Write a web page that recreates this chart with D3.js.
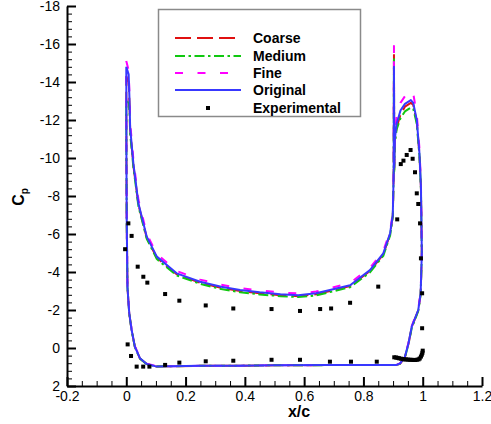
<!DOCTYPE html>
<html>
<head>
  <meta charset="utf-8">
  <script src="https://d3js.org/d3.v7.min.js"></script>
  <style>
    body { margin: 0; background: white; }
    svg { display: block; }
    text { font-family: "Liberation Sans", Arial, sans-serif; }
  </style>
</head>
<body>
  <svg id="chart"></svg>
  <script>
    // ---- data ----
    // path around the airfoil (upper surface LE -> flap -> lower surface -> LE)
    var pathX = [0.000, 0.008, 0.011, 0.013, 0.024, 0.041, 0.069, 0.103, 0.170, 0.249,
      0.320, 0.384, 0.450, 0.520, 0.580, 0.640, 0.687, 0.755, 0.822, 0.867,
      0.890, 0.899, 0.902, 0.903, 0.904, 0.906, 0.912, 0.925, 0.940, 0.960,
      0.968, 0.980, 0.989, 0.994, 0.997, 0.993, 0.985, 0.963, 0.952, 0.940,
      0.924, 0.910, 0.800, 0.687, 0.500, 0.384, 0.250, 0.150, 0.103, 0.069,
      0.046, 0.029, 0.018, 0.010, 0.004, 0.0015, 0.0005, 0.000];

    var cpOriginal = [-14.8, -14.4, -13.0, -11.6, -9.7, -7.6, -5.86, -4.81, -3.93, -3.49,
      -3.22, -3.05, -2.93, -2.83, -2.78, -2.88, -3.05, -3.3, -4.1, -4.98,
      -6.04, -7.0, -9.2, -14.8, -9.5, -11.0, -11.8, -12.5, -12.85, -13.05,
      -12.9, -12.0, -10.25, -8.5, -5.0, -2.88, -2.0, -1.12, -0.25, 0.46,
      0.81, 0.9, 0.9, 0.9, 0.91, 0.93, 0.94, 0.96, 0.98, 0.84,
      0.54, -0.07, -0.95, -1.83, -3.2, -6.7, -10.0, -14.8];

    var cpFine = [-15.1, -14.6, -13.3, -11.9, -9.9, -7.8, -6.0, -4.95, -4.05, -3.6,
      -3.33, -3.15, -3.03, -2.92, -2.87, -2.97, -3.15, -3.42, -4.22, -5.1,
      -6.15, -7.1, -9.4, -15.9, -9.7, -11.3, -12.2, -12.9, -13.25, -13.55,
      -13.4, -12.3, -10.5, -8.7, -5.1, -2.95, -2.05, -1.15, -0.28, 0.44,
      0.8, 0.9, 0.9, 0.9, 0.91, 0.93, 0.94, 0.96, 0.97, 0.82,
      0.52, -0.1, -0.98, -1.86, -3.25, -6.8, -10.2, -15.1];

    var cpMedium = [-13.0, -12.9, -12.4, -11.3, -9.5, -7.45, -5.75, -4.68, -3.82, -3.38,
      -3.1, -2.94, -2.82, -2.73, -2.68, -2.77, -2.94, -3.2, -3.98, -4.85,
      -5.92, -6.9, -9.0, -15.2, -9.3, -10.8, -11.5, -12.1, -12.45, -12.65,
      -12.6, -11.8, -10.1, -8.35, -4.9, -2.8, -1.95, -1.05, -0.2, 0.5,
      0.83, 0.9, 0.9, 0.9, 0.91, 0.93, 0.94, 0.96, 0.98, 0.85,
      0.56, -0.05, -0.92, -1.8, -3.15, -6.6, -9.8, -13.0];

    var cpCoarse = [-14.3, -14.0, -12.8, -11.5, -9.6, -7.55, -5.8, -4.75, -3.88, -3.44,
      -3.16, -3.0, -2.88, -2.78, -2.73, -2.83, -3.0, -3.26, -4.05, -4.92,
      -6.0, -6.95, -9.1, -15.5, -9.4, -10.9, -11.6, -12.3, -12.7, -12.9,
      -12.8, -11.9, -10.2, -8.45, -4.95, -2.85, -1.98, -1.1, -0.22, 0.48,
      0.82, 0.9, 0.9, 0.9, 0.91, 0.93, 0.94, 0.96, 0.98, 0.84,
      0.55, -0.06, -0.94, -1.82, -3.18, -6.65, -9.9, -14.3];

    // experimental points
    var expX = [-0.004, 0.007, 0.018, 0.0385, 0.0575, 0.071, 0.131, 0.179, 0.268, 0.361,
      0.49, 0.586, 0.654, 0.691, 0.755, 0.85,
      0.914, 0.926, 0.935, 0.946, 0.959, 0.966, 0.974, 0.98, 0.985, 0.991,
      0.994, 0.998, 0.998, 1.0,
      0.0046, 0.016, 0.035, 0.057, 0.078, 0.131, 0.179, 0.268, 0.361, 0.49,
      0.586, 0.687, 0.758, 0.845, 0.904,
      0.91, 0.915, 0.92, 0.926, 0.932, 0.938, 0.944, 0.95, 0.956, 0.962,
      0.968, 0.974, 0.98, 0.986, 0.99, 0.994, 0.997, 0.999];
    var expCp = [-5.2, -6.56, -5.9, -4.28, -3.75, -3.44, -2.84, -2.49, -2.24, -2.08,
      -2.05, -1.95, -2.05, -2.08, -2.38, -3.23,
      -6.77, -9.68, -9.86, -10.16, -10.42, -9.96, -9.25, -8.14, -7.58, -6.56,
      -4.72, -2.88, -1.04, 0.14,
      -0.19, 0.42, 0.98, 0.98, 0.98, 0.89, 0.77, 0.7, 0.67, 0.62,
      0.62, 0.72, 0.72, 0.72, 0.49,
      0.5, 0.52, 0.54, 0.56, 0.58, 0.6, 0.6, 0.61, 0.62, 0.62,
      0.63, 0.63, 0.62, 0.6, 0.55, 0.45, 0.35, 0.25];

    var seriesNames = ["Coarse", "Medium", "Fine", "Original"];
    var seriesColors = ["#e01010", "#10c810", "#ff00ff", "#3838ff"];
    var seriesDash = ["16,6", "10,3.5,2.5,3.5", "8,14.5", null];
    var seriesCp = [cpCoarse, cpMedium, cpFine, cpOriginal];

    var xTicks = [-0.2, 0, 0.2, 0.4, 0.6, 0.8, 1, 1.2];
    var yTicks = [-18, -16, -14, -12, -10, -8, -6, -4, -2, 0, 2];

    // ---- layout ----
    var width = 491, height = 424;
    var svg = d3.select("#chart").attr("width", width).attr("height", height);

    var x = d3.scaleLinear().domain([-0.2, 1.2]).range([67, 482]);
    var y = d3.scaleLinear().domain([-18, 2]).range([6, 386]);

    var fmt = d => String(+d.toFixed(2));

    // minor ticks
    var xMinor = d3.range(-0.2, 1.2001, 0.05).filter(v => Math.abs(Math.round(v * 5) - v * 5) > 1e-6);
    var yMinor = d3.range(-18, 2.0001, 0.4).filter(v => Math.abs(Math.round(v / 2) * 2 - v) > 1e-6);

    svg.append("g")
      .attr("transform", "translate(0,386)")
      .call(d3.axisBottom(x).tickValues(xMinor).tickSize(-5).tickSizeOuter(0).tickFormat(""))
      .call(g => g.select(".domain").remove())
      .call(g => g.selectAll("line").attr("stroke", "#000").attr("stroke-width", 1));

    svg.append("g")
      .attr("transform", "translate(67,0)")
      .call(d3.axisLeft(y).tickValues(yMinor).tickSize(-5).tickSizeOuter(0).tickFormat(""))
      .call(g => g.select(".domain").remove())
      .call(g => g.selectAll("line").attr("stroke", "#000").attr("stroke-width", 1));

    // major axes
    var xAxis = svg.append("g")
      .attr("transform", "translate(0,386)")
      .call(d3.axisBottom(x).tickValues(xTicks).tickSize(-9).tickSizeOuter(0).tickPadding(5).tickFormat(fmt));
    var yAxis = svg.append("g")
      .attr("transform", "translate(67,0)")
      .call(d3.axisLeft(y).tickValues(yTicks).tickSize(-9).tickSizeOuter(0).tickPadding(7).tickFormat(fmt));

    [xAxis, yAxis].forEach(g => {
      g.select(".domain").attr("stroke", "#000").attr("stroke-width", 2);
      g.selectAll(".tick line").attr("stroke", "#000").attr("stroke-width", 2);
      g.selectAll("text").attr("font-size", 14).attr("fill", "#000")
        .attr("font-family", "'Liberation Sans', Arial, sans-serif");
    });

    // axis titles
    svg.append("text")
      .attr("x", 299).attr("y", 417)
      .attr("text-anchor", "middle")
      .attr("font-size", 16).attr("font-weight", "bold")
      .text("x/c");

    var cpLabel = svg.append("text")
      .attr("transform", "translate(24,197) rotate(-90)")
      .attr("text-anchor", "middle")
      .attr("font-size", 16).attr("font-weight", "bold");
    cpLabel.append("tspan").text("C");
    cpLabel.append("tspan").attr("font-size", 10).attr("dy", 4).text("p");

    // curves
    var line = d3.line()
      .x((d, i) => x(pathX[i]))
      .y(d => y(d));

    seriesCp.forEach((cp, k) => {
      svg.append("path")
        .datum(cp)
        .attr("d", line)
        .attr("fill", "none")
        .attr("stroke", seriesColors[k])
        .attr("stroke-width", 2)
        .attr("stroke-linejoin", "round")
        .attr("stroke-dasharray", seriesDash[k]);
    });

    // experimental squares
    svg.append("g")
      .selectAll("rect")
      .data(expX)
      .enter().append("rect")
      .attr("x", (d, i) => x(d) - 2)
      .attr("y", (d, i) => y(expCp[i]) - 2)
      .attr("width", 4)
      .attr("height", 4)
      .attr("fill", "#000");

    // legend
    var legend = svg.append("g");
    legend.append("rect")
      .attr("x", 158.5).attr("y", 9.5)
      .attr("width", 202).attr("height", 107)
      .attr("fill", "white")
      .attr("stroke", "#8a8a8a").attr("stroke-width", 1.5);

    var rowY = [38, 56, 73, 90, 108];
    seriesNames.forEach((name, k) => {
      legend.append("line")
        .attr("x1", 175).attr("x2", 241)
        .attr("y1", rowY[k]).attr("y2", rowY[k])
        .attr("stroke", seriesColors[k])
        .attr("stroke-width", 2)
        .attr("stroke-dasharray", seriesDash[k]);
      legend.append("text")
        .attr("x", 253).attr("y", rowY[k] + 5)
        .attr("font-size", 14).attr("font-weight", "bold")
        .text(name);
    });
    legend.append("rect")
      .attr("x", 206).attr("y", rowY[4] - 2)
      .attr("width", 4).attr("height", 4)
      .attr("fill", "#000");
    legend.append("text")
      .attr("x", 253).attr("y", rowY[4] + 5)
      .attr("font-size", 14).attr("font-weight", "bold")
      .text("Experimental");
  </script>
</body>
</html>
